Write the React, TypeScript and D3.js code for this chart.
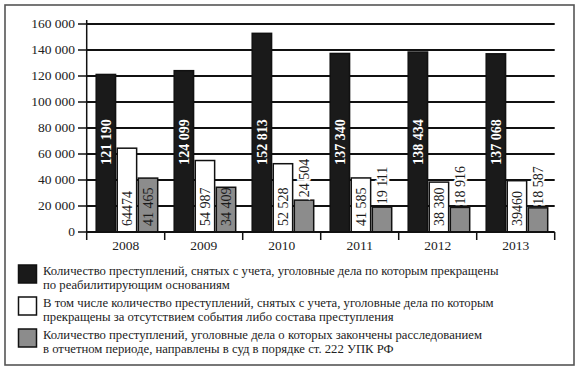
import React from 'react'
import { scaleLinear, scaleBand, range } from 'd3'

const WIDTH = 578
const HEIGHT = 370

const years = ['2008', '2009', '2010', '2011', '2012', '2013']
const rehabilitated = [121190, 124099, 152813, 137340, 138434, 137068]
const noEvent = [64474, 54987, 52528, 41585, 38380, 39460]
const toCourt = [41465, 34409, 24504, 19111, 18916, 18587]
const rehabilitatedLabels = ['121 190', '124 099', '152 813', '137 340', '138 434', '137 068']
const noEventLabels = ['64474', '54 987', '52 528', '41 585', '38 380', '39460']
const toCourtLabels = ['41 465', '34 409', '24 504', '19 111', '18 916', '18 587']
const yTicks = [0, 20000, 40000, 60000, 80000, 100000, 120000, 140000, 160000]
const yTickLabels = ['0', '20 000', '40 000', '60 000', '80 000', '100 000', '120 000', '140 000', '160 000']
const legendLines = [
  ['Количество преступлений, снятых с учета, уголовные дела по которым прекращены', 'по реабилитирующим основаниям'],
  ['В том числе количество преступлений, снятых с учета, уголовные дела по которым', 'прекращены за отсутствием события либо состава преступления'],
  ['Количество преступлений, уголовные дела о которых закончены расследованием', 'в отчетном периоде, направлены в суд в порядке ст. 222 УПК РФ'],
]

const FONT = 'Liberation Serif, Times New Roman, serif'
const PLOT = { left: 86.7, right: 554.7, top: 24, bottom: 232 }

const series = [
  { values: rehabilitated, labels: rehabilitatedLabels, fill: '#1a1a1a', text: '#fff' },
  { values: noEvent, labels: noEventLabels, fill: '#fff', text: '#1a1a1a' },
  { values: toCourt, labels: toCourtLabels, fill: '#8c8c8c', text: '#1a1a1a' },
]

const App = () => {
  const x = scaleBand().domain(years).range([PLOT.left, PLOT.right])
  const xInner = scaleBand<number>().domain(range(series.length)).range([9.5, 71]).paddingInner(0.08)
  const y = scaleLinear().domain([0, 160000]).range([PLOT.bottom, PLOT.top])

  return (
    <svg width={WIDTH} height={HEIGHT} style={{ position: 'absolute', left: 0, top: 0, background: '#fff', fontFamily: FONT }}>
      <rect x={5} y={5} width={569} height={360} fill="#fff" stroke="#555" strokeWidth={1.6} />

      {/* grid + y axis */}
      <g data-y-axis>
        {yTicks.map((t, i) => (
          <g key={t}>
            {t > 0 && <line x1={PLOT.left} x2={PLOT.right} y1={y(t)} y2={y(t)} stroke="#111" strokeWidth={1.8} />}
            <line x1={78} x2={PLOT.left} y1={y(t)} y2={y(t)} stroke="#111" strokeWidth={1.5} />
            <text x={75} y={y(t)} dy="0.33em" textAnchor="end" fontSize={13.5} fill="#222">{yTickLabels[i]}</text>
          </g>
        ))}
        <line x1={PLOT.left} x2={PLOT.left} y1={20} y2={240} stroke="#111" strokeWidth={1.5} />
      </g>

      {/* bars */}
      {years.map((yr, i) => (
        <g key={yr} transform={`translate(${x(yr)}, 0)`}>
          {series.map((s, j) => {
            const bx = xInner(j)!
            const bw = xInner.bandwidth()
            const top = y(s.values[i])
            return (
              <rect key={j} x={bx} y={top} width={bw} height={PLOT.bottom - top}
                fill={s.fill} stroke="#111" strokeWidth={1.5} />
            )
          })}
          {series.map((s, j) => {
            const cx = xInner(j)! + xInner.bandwidth() / 2
            const top = y(s.values[i])
            if (j === 0) {
              return (
                <text key={j} transform={`translate(${cx + 4.8}, 142) rotate(-90)`} textAnchor="middle"
                  fontSize={14} fontWeight="bold" fill={s.text}>{s.labels[i]}</text>
              )
            }
            const inside = s.values[i] > 30000
            const ty = inside ? 226 : top - 3
            return (
              <text key={j} transform={`translate(${cx + 4.8}, ${ty}) rotate(-90)`} textAnchor="start"
                fontSize={14} fill={s.text}
                stroke={inside ? 'none' : '#fff'} strokeWidth={inside ? 0 : 4} paintOrder="stroke">
                {s.labels[i]}
              </text>
            )
          })}
        </g>
      ))}

      {/* x axis */}
      <g data-x-axis>
        <line x1={PLOT.left} x2={PLOT.right} y1={PLOT.bottom} y2={PLOT.bottom} stroke="#111" strokeWidth={1.8} />
        {years.map(yr => (
          <g key={yr}>
            <line x1={x(yr)! + x.bandwidth()} x2={x(yr)! + x.bandwidth()} y1={PLOT.bottom} y2={240}
              stroke="#111" strokeWidth={1.5} />
            <text x={x(yr)! + x.bandwidth() / 2} y={250} textAnchor="middle" fontSize={13.5} fill="#222">{yr}</text>
          </g>
        ))}
      </g>

      {/* legend */}
      <g data-legend>
        {series.map((s, i) => (
          <g key={i} transform={`translate(0, ${265 + i * 32})`}>
            <rect x={18.5} y={0} width={18} height={18} fill={s.fill} stroke="#111" strokeWidth={1.5} />
            {legendLines[i].map((ln, k) => (
              <text key={k} x={43} y={9.8 + k * 13.7} fontSize={12.7} fill="#222">{ln}</text>
            ))}
          </g>
        ))}
      </g>
    </svg>
  )
}

export default App
